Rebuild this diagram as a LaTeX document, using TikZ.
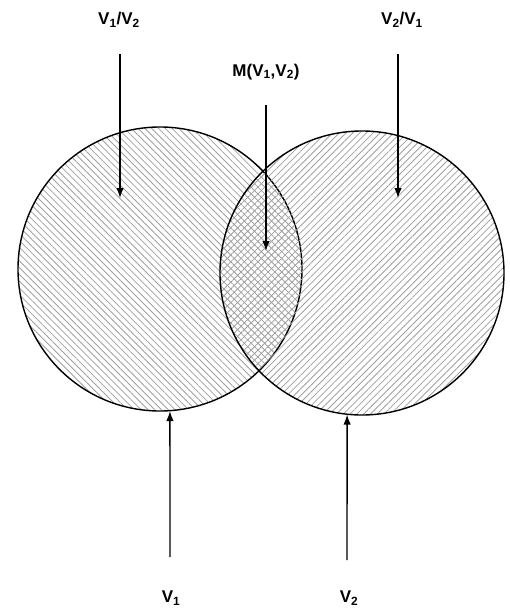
\documentclass[tikz,border=0pt]{standalone}
\usepackage{fontspec}
\setmainfont{Liberation Sans}
\usetikzlibrary{arrows.meta,positioning,patterns.meta}
\newcommand{\sub}[1]{\textsubscript{#1}}
\tikzset{
  set/.style={circle,draw,line width=1.4pt,minimum size=284pt,inner sep=0pt},
  setleft/.style={set,pattern={Lines[angle=-45,distance=4.8pt,line width=0.8pt]},pattern color=gray!75},
  setright/.style={set,pattern={Lines[angle=45,distance=4.8pt,line width=0.8pt]},pattern color=gray!75},
  lab/.style={font=\bfseries\fontsize{17}{20}\selectfont,inner sep=1pt},
  arrow/.style={-{Latex[length=10pt,width=7.5pt]},line width=1.4pt}
}
\begin{document}
\begin{tikzpicture}[x=1pt,y=-1pt]
\useasboundingbox (0,0) rectangle (509,608);
\node[setleft] (vone) at (160,269) {};
\node[setright] (vtwo) at (362,273) {};
% labels
\node[lab] (l12) at (119,20) {V\sub{1}/V\sub{2}};
\node[lab] (l21) at (402,20) {V\sub{2}/V\sub{1}};
\node[lab] (lm) at (266,72) {M(V\sub{1},V\sub{2})};
\node[lab] (l1) at (171,598) {V\sub{1}};
\node[lab] (l2) at (349,598) {V\sub{2}};
% arrow ends
\coordinate (s12) at (120,54);  \coordinate (e12) at (120,198);
\coordinate (s21) at (398,54);  \coordinate (e21) at (398,198);
\coordinate (sm) at (266,105);  \coordinate (em) at (266,251);
\coordinate (s1) at (170,557);  \coordinate (s2) at (347,560);
\draw[arrow] (s12)--(e12);
\draw[arrow] (s21)--(e21);
\draw[arrow] (sm)--(em);
\draw[arrow] (s1)--(vone.-86);
\draw[arrow] (s2)--(vtwo.-96);
\end{tikzpicture}
\end{document}
